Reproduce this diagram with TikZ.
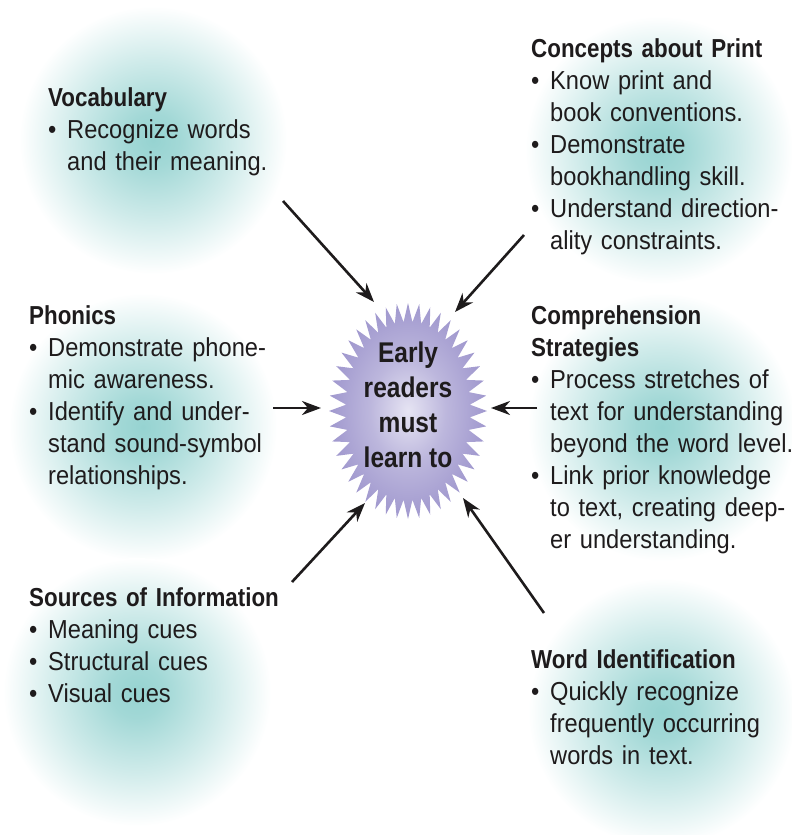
\documentclass[tikz,border=0pt]{standalone}
\usepackage{fontspec}
\setmainfont{Liberation Sans}[FakeStretch=0.91,BoldFeatures={FakeStretch=0.86}]
\usetikzlibrary{arrows.meta}
\definecolor{ink}{RGB}{30,27,28}
\definecolor{glowc}{RGB}{150,211,209}
\definecolor{starc}{RGB}{160,152,206}
\definecolor{starmid}{RGB}{230,228,243}
\pgfdeclareradialshading{glow}{\pgfpoint{0bp}{0bp}}{color(0bp)=(glowc); color(5bp)=(glowc!88!white); color(15bp)=(glowc!45!white); color(25bp)=(white); color(50bp)=(white)}
\pgfdeclareradialshading{burst}{\pgfpoint{0bp}{0bp}}{color(0bp)=(starmid); color(12bp)=(starc!70!white); color(25bp)=(starc); color(50bp)=(starc)}
\newcommand\bul{\makebox[19pt][l]{\textbullet}}
\newcommand\ind{\hspace*{19pt}}
\begin{document}
\begin{tikzpicture}[x=1pt,y=-1pt,
    box/.style={anchor=base west,inner sep=0pt,text width=300pt,align=left,text=ink,font=\fontsize{26}{32}\selectfont},
    core/.style={inner sep=0pt,align=center,text=ink,font=\bfseries\fontsize{28.5}{35}\selectfont},
    arr/.style={draw=ink,line width=2.6pt,-{Stealth[length=19pt,width=14pt,inset=6pt]}}]
    \useasboundingbox (0,0) rectangle (792,835);
    \fill[white] (0,0) rectangle (792,835);
    % glows behind the six groups
    \foreach \cx/\cy in {153/140,659/150,143/427,662/427,137/692,662/712}
      \shade[shading=glow] (\cx,\cy) circle (134);
    % starburst
    \shade[shading=burst] (487,411) \foreach \i in {1,...,87}{
        -- ({408+(79-17*mod(\i,2))*cos(\i*4.0909)},{411+(108-19*mod(\i,2))*sin(\i*4.0909)})} -- cycle;
    \node[core] (core) at (408,405) {Early\\readers\\must\\learn to};
    \node[box] (vocab) at (48,106) {\textbf{Vocabulary}\\
      \bul Recognize words\\ \ind and their meaning.};
    \node[box] (print) at (531,57) {\textbf{Concepts about Print}\\
      \bul Know print and\\ \ind book conventions.\\
      \bul Demonstrate\\ \ind bookhandling skill.\\
      \bul Understand direction-\\ \ind ality constraints.};
    \node[box] (phonics) at (29,324) {\textbf{Phonics}\\
      \bul Demonstrate phone-\\ \ind mic awareness.\\
      \bul Identify and under-\\ \ind stand sound-symbol\\ \ind relationships.};
    \node[box] (compr) at (531,324) {\textbf{Comprehension}\\ \textbf{Strategies}\\
      \bul Process stretches of\\ \ind text for understanding\\ \ind beyond the word level.\\
      \bul Link prior knowledge\\ \ind to text, creating deep-\\ \ind er understanding.};
    \node[box] (sources) at (29,606) {\textbf{Sources of Information}\\
      \bul Meaning cues\\ \bul Structural cues\\ \bul Visual cues};
    \node[box] (wordid) at (531,668) {\textbf{Word Identification}\\
      \bul Quickly recognize\\ \ind frequently occurring\\ \ind words in text.};
    % arrows into the starburst
    \coordinate (vocab-t) at (283,201);   \coordinate (vocab-h) at (374,302);
    \coordinate (print-t) at (524,235);   \coordinate (print-h) at (455,312);
    \coordinate (phonics-t) at (273,408); \coordinate (phonics-h) at (321,408);
    \coordinate (compr-t) at (537,408);   \coordinate (compr-h) at (491,408);
    \coordinate (sources-t) at (292,582); \coordinate (sources-h) at (365,503);
    \coordinate (wordid-t) at (544,613);  \coordinate (wordid-h) at (463,498);
    \foreach \n in {vocab,print,phonics,compr,sources,wordid}
      \draw[arr] (\n-t) -- (\n-h);
\end{tikzpicture}
\end{document}
